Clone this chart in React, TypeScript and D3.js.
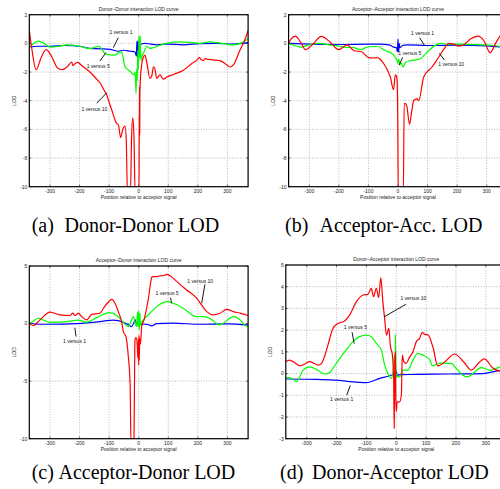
import React from 'react';
import * as d3 from 'd3';

type Pt = [number, number];

// shared x axis
const xDomain: [number, number] = [-370, 370];
const xTicks = [-300, -200, -100, 0, 100, 200, 300];
const xLabel = 'Position relative to acceptor signal';
const yLabel = 'LOD';

const seriesNames = ['1 versus 1', '1 versus 5', '1 versus 10'];
const seriesColors = ['#0000ff', '#00ff00', '#ff0000'];

const titles = [
  'Donor–Donor interaction LOD curve',
  'Acceptor–Acceptor interaction LOD curve',
  'Acceptor–Donor interaction LOD curve',
  'Donor–Acceptor interaction LOD curve',
];
const captionTags = ['(a)', '(b)', '(c)', '(d)'];
const captions = ['Donor-Donor LOD', 'Acceptor-Acc. LOD', 'Acceptor-Donor LOD', 'Donor-Acceptor LOD'];

const yTicksTop = [-10, -8, -6, -4, -2, 0, 2];
const yTicksC = [-10, -5, 0, 5];
const yTicksD = [-3, -2, -1, 0, 1, 2, 3, 4, 5];

// (a) Donor-Donor
const ddBlue: Pt[] = [[-370,-0.25],[-340,-0.2],[-300,-0.2],[-250,-0.15],[-200,-0.2],[-165,-0.35],[-131,-0.38],[-97,-0.42],[-69,-0.55],[-50,-0.48],[-29,-0.55],[-12,-0.6],[-8,-0.9],[-6,0.15],[-4,-1.0],[-2,0.2],[0,-0.8],[2,-0.2],[4,-0.1],[21,0],[40,-0.05],[61,-0.1],[100,-0.05],[150,-0.1],[207,-0.02],[260,0],[320,-0.05],[370,0.05]];
const ddGreen: Pt[] = [[-370,-0.26],[-355,0],[-339,0.16],[-320,0],[-300,-0.26],[-270,-0.2],[-244,-0.1],[-198,-0.2],[-165,-0.37],[-137,-0.2],[-131,-0.24],[-114,-0.7],[-97,-0.8],[-80,-0.82],[-63,-0.6],[-57,-0.65],[-46,-1.63],[-29,-1.95],[-15,-2.2],[-12,-2.0],[-9,-3.5],[-7,-1.8],[-5,-2.6],[-3,-0.5],[-1,-1.8],[1,0.5],[3,-1.0],[5,0.55],[7,-1.2],[10,-0.95],[18,-0.6],[27,-0.2],[38,-0.35],[50,-0.3],[70,-0.15],[95,0],[140,0.1],[180,0.05],[207,0],[240,0.1],[264,0.05],[320,-0.1],[350,0.05],[370,0.33]];
const ddRed: Pt[] = [[-370,0.9],[-362,-0.3],[-347,-1.84],[-330,-1.0],[-313,-0.44],[-295,-0.9],[-275,-1.7],[-260,-1.84],[-240,-1.6],[-227,-1.3],[-222,-1.55],[-217,-1.45],[-207,-1.33],[-190,-1.6],[-165,-2.0],[-142,-2.5],[-131,-2.75],[-119,-3.2],[-108,-3.6],[-97,-4.3],[-91,-4.65],[-80,-5.35],[-74,-5.6],[-69,-5.65],[-61,-6.58],[-54,-6.0],[-46,-5.77],[-42,-6.8],[-38,-10.5],[-28,-10.5],[-24,-6.5],[-20,-5.2],[-16,-6.5],[-12,-10.5],[1,-10.5],[2,-5],[2.5,-6.5],[3,-3],[3.5,-6.3],[4,-3.5],[6,-2.4],[10,-1.5],[15,-1.0],[21,-0.82],[27,-1.3],[38,-2.44],[44,-2.3],[50,-1.63],[55,-1.8],[61,-2.44],[72,-2.2],[83,-2.5],[95,-2.35],[120,-2.15],[151,-1.88],[180,-1.4],[196,-1.19],[205,-1.0],[212,-1.15],[219,-1.2],[226,-1.05],[230,-1.1],[250,-1.15],[275,-1.2],[295,-1.45],[309,-1.65],[320,-1.5],[342,-0.5],[360,0.3],[370,0.9]];

// (b) Acceptor-Acceptor
const aaBlue: Pt[] = [[-370,0],[-300,-0.05],[-200,-0.08],[-100,-0.05],[-60,-0.05],[-30,-0.1],[-15,-0.26],[-5,-0.3],[-2,-0.6],[0,0.3],[2,-0.6],[4,0],[6,-0.3],[15,-0.15],[30,-0.1],[100,-0.15],[200,-0.12],[300,-0.18],[370,-0.3]];
const aaGreen: Pt[] = [[-370,0],[-350,-0.15],[-330,-0.26],[-300,-0.1],[-270,0],[-234,-0.1],[-200,-0.2],[-184,-0.26],[-150,-0.3],[-127,-0.44],[-105,-0.26],[-71,-0.2],[-43,-0.5],[-20,-0.72],[-8,-1.0],[-3,-1.2],[0,-1.4],[3,-1.1],[6,-1.5],[10,-1.35],[17,-1.65],[25,-1.35],[42,-1.2],[60,-1.15],[76,-1.07],[90,-0.8],[104,-0.5],[126,-0.14],[143,0],[170,-0.05],[220,-0.05],[280,-0.1],[320,-0.15],[370,-0.26]];
const aaRed: Pt[] = [[-370,0],[-362,0.3],[-347,0.5],[-330,0.1],[-313,-0.44],[-290,-0.1],[-259,0.49],[-230,0.1],[-201,-0.44],[-172,-0.1],[-150,-0.5],[-122,-0.6],[-99,-1.0],[-85,-1.02],[-71,-1.0],[-48,-1.42],[-35,-1.9],[-26,-2.35],[-15,-3.23],[-9,-2.2],[-5,-2.3],[-3,-2.6],[-1,-5],[1,-10.5],[18,-10.5],[21,-4.2],[26,-4.2],[30,-4.4],[39,-5.65],[46,-4.8],[53,-4.0],[60,-3.9],[64,-3.85],[70,-4.0],[87,-2.35],[115,-1.65],[138,-0.95],[160,-0.26],[171,0],[188,-0.05],[205,-0.2],[222,-0.1],[245,0.3],[270,0.5],[290,0.2],[312,-0.65],[330,0.0],[348,0.6],[370,1.0]];

// (c) Acceptor-Donor
const adBlue: Pt[] = [[-370,0.12],[-346,-0.06],[-300,-0.06],[-210,0],[-131,0.17],[-86,0.3],[-52,0.12],[-35,-0.1],[-24,-0.26],[-16,0.1],[-12,0.32],[-8,0],[-5,-0.1],[5,-0.06],[27,-0.06],[44,-0.2],[61,0],[117,0.03],[207,-0.06],[300,-0.02],[370,-0.12]];
const adGreen: Pt[] = [[-370,0],[-355,0.25],[-339,0.46],[-322,0.3],[-300,0.1],[-244,0.17],[-204,0.3],[-176,0.12],[-142,0.52],[-97,0.95],[-74,0.7],[-52,0.12],[-35,-0.26],[-24,0.32],[-18,0.6],[-12,0.1],[-7,-0.26],[-4,1.0],[-2,-0.3],[0,1.1],[2,-0.55],[4,0.9],[6,-0.2],[10,0.1],[16,0.32],[38,0.9],[61,1.47],[95,1.9],[117,1.76],[151,1.33],[196,0.6],[219,0.6],[253,0.23],[269,-0.12],[286,0.03],[320,0.6],[343,0.32],[360,-0.17],[370,-0.26]];
const adRed: Pt[] = [[-370,0],[-356,-0.17],[-334,0.32],[-300,1.0],[-266,0.75],[-232,0.7],[-223,0.9],[-215,0.7],[-204,0.9],[-193,0.6],[-176,0.32],[-159,0.8],[-131,0.9],[-119,1.33],[-103,1.85],[-91,2.1],[-80,1.76],[-69,1.04],[-58,0.17],[-52,-0.7],[-43,-1.13],[-35,-2.9],[-29,-5.3],[-26,-10.5],[-16,-10.5],[-13,-1.5],[-9,-1.2],[-5,-1.8],[-3,-3.0],[-1,-1.3],[0,-3.6],[1,-1.0],[2,-3.2],[3,-1.27],[6,-1.8],[10,-0.26],[18,0.32],[33,2.2],[44,4.0],[47,4.07],[61,4.07],[72,4.15],[83,4.16],[95,4.28],[106,4.16],[129,3.64],[162,2.92],[196,2.2],[213,1.6],[230,1.04],[253,0.75],[275,0.9],[298,1.24],[320,1.04],[343,0.9],[370,0.7]];

// (d) Donor-Acceptor
const daBlue: Pt[] = [[-370,-0.25],[-268,-0.27],[-200,-0.3],[-156,-0.37],[-100,-0.42],[-56,-0.22],[-22,-0.1],[-5,0],[0,0.12],[3,-0.1],[11,-0.05],[67,-0.04],[178,-0.02],[290,0],[340,0.12],[370,0.15]];
const daGreen: Pt[] = [[-370,-0.19],[-357,-0.19],[-334,-0.37],[-312,0.16],[-290,0.31],[-268,0.2],[-240,-0.02],[-223,0.05],[-201,0.47],[-173,1.0],[-145,1.47],[-123,1.7],[-100,1.77],[-84,1.7],[-67,1.39],[-50,1.08],[-39,0.39],[-28,0],[-17,-0.22],[-11,0.09],[-6,0.85],[-4,-0.1],[-3,1.8],[-1,-0.2],[0,-0.05],[5,-0.15],[11,-0.15],[16,-0.05],[22,0.16],[39,0.16],[56,0.62],[72,0.93],[89,0.85],[111,0.65],[122,0.35],[145,0.48],[184,0.47],[200,0.25],[220,-0.05],[240,-0.15],[260,0.05],[284,0.27],[317,0.15],[345,0.3],[370,0.35]];
const daRed: Pt[] = [[-370,0.55],[-357,0.62],[-340,0.5],[-323,0.36],[-305,0.45],[-290,0.55],[-262,0.39],[-251,0.45],[-240,0.8],[-229,1.31],[-212,2.08],[-195,2.31],[-173,2.42],[-156,2.7],[-134,3.3],[-111,3.62],[-95,3.65],[-84,3.92],[-76,3.54],[-67,3.93],[-59,3.5],[-52,4.42],[-45,3.3],[-39,2.54],[-33,1.77],[-25,2.08],[-20,1.3],[-13,0.85],[-9,-0.22],[-7,-2.52],[-5,0.5],[-3,1.0],[-1.5,-1.2],[0,-1.75],[3,-1.3],[11,-1.3],[17,-1.0],[20,0.85],[25,0.55],[33,0.47],[45,0.77],[56,1.0],[67,1.47],[78,1.62],[87,1.9],[95,1.8],[106,1.78],[123,1.2],[139,0.35],[162,0.53],[195,0.9],[228,0.5],[251,0.16],[279,0.53],[295,0.68],[322,0.27],[345,0.12],[370,0.1]];

// annotation: [series index, text x, text y, line x1, y1, x2, y2] in data units
type Note = [number, number, number, number, number, number, number];
const ddNotes: Note[] = [[0,-60,0.77,-86,-0.3,-69,0.4],[1,-137,-1.6,-131,-1.23,-111,-0.65],[2,-150,-4.56,-142,-4.18,-108,-3.44]];
const aaNotes: Note[] = [[0,83,0.72,73,0.4,90,-0.16],[1,40,-0.69,16,-0.97,4,-1.51],[2,180,-1.46,157,-1.16,140,-0.69]];
const adNotes: Note[] = [[0,-217,-1.51,-216,-0.35,-212,-1.13],[1,96,2.68,108,2.25,111,1.76],[2,208,3.72,224,3.41,213,1.76]];
const daNotes: Note[] = [[0,-183,-1.19,-166,-1.0,-154,-0.54],[1,-137,2.13,-148,1.9,-141,1.38],[2,57,3.47,32,3.19,-41,2.61]];

const SANS = '"Liberation Sans", Arial, Helvetica, sans-serif';
const SERIF = '"Liberation Serif", "Times New Roman", serif';

interface PanelProps {
  id: string;
  left: number;
  top: number;
  width: number;
  height: number;
  yDomain: [number, number];
  yTicks: number[];
  title: string;
  series: Pt[][];
  notes: Note[];
}

const Panel: React.FC<PanelProps> = ({ id, left, top, width, height, yDomain, yTicks, title, series, notes }) => {
  const x = d3.scaleLinear().domain(xDomain).range([left, left + width]);
  const y = d3.scaleLinear().domain(yDomain).range([top + height, top]);
  const line = d3.line<Pt>()
    .x(d => x(d[0]))
    .y(d => y(d[1]))
    .curve(d3.curveMonotoneX);
  const bottom = top + height;
  const right = left + width;
  const tl = 2;

  return (
    <g>
      <defs>
        <clipPath id={id}>
          <rect x={left} y={top} width={width} height={height} />
        </clipPath>
      </defs>
      {/* grid */}
      {xTicks.map(t => (
        <line key={'gx' + t} x1={x(t)} x2={x(t)} y1={top} y2={bottom}
          stroke="#8a8a8a" strokeWidth={0.6} strokeDasharray="1,1.6" />
      ))}
      {yTicks.map(t => (
        <line key={'gy' + t} x1={left} x2={right} y1={y(t)} y2={y(t)}
          stroke="#8a8a8a" strokeWidth={0.6} strokeDasharray="1,1.6" />
      ))}
      {/* curves */}
      <g clipPath={`url(#${id})`}>
        {series.map((s, i) => (
          <path key={i} d={line(s) || ''} fill="none" stroke={seriesColors[i]}
            strokeWidth={1.2} strokeLinejoin="round" />
        ))}
      </g>
      {/* frame and ticks */}
      <rect x={left} y={top} width={width} height={height} fill="none" stroke="#000" strokeWidth={1.2} />
      {xTicks.map(t => (
        <g key={'tx' + t}>
          <line x1={x(t)} x2={x(t)} y1={bottom} y2={bottom - tl} stroke="#000" strokeWidth={0.6} />
          <line x1={x(t)} x2={x(t)} y1={top} y2={top + tl} stroke="#000" strokeWidth={0.6} />
          <text x={x(t)} y={bottom + 6.6} fontSize={5} fontFamily={SANS} textAnchor="middle" fill="#222">{String(t)}</text>
        </g>
      ))}
      {yTicks.map(t => (
        <g key={'ty' + t}>
          <line x1={left} x2={left + tl} y1={y(t)} y2={y(t)} stroke="#000" strokeWidth={0.6} />
          <line x1={right} x2={right - tl} y1={y(t)} y2={y(t)} stroke="#000" strokeWidth={0.6} />
          <text x={left - 2} y={y(t) + 1.8} fontSize={5} fontFamily={SANS} textAnchor="end" fill="#222">{String(t)}</text>
        </g>
      ))}
      <text x={(left + right) / 2} y={top - 3.6} fontSize={5} fontFamily={SANS} textAnchor="middle" fill="#222">{title}</text>
      <text x={(left + right) / 2} y={bottom + 11.8} fontSize={5} fontFamily={SANS} textAnchor="middle" fill="#222">{xLabel}</text>
      <text transform={`translate(${left - 13.5},${(top + bottom) / 2}) rotate(-90)`} fontSize={5} fontFamily={SANS}
        textAnchor="middle" fill="#222">{yLabel}</text>
      {/* annotations */}
      {notes.map((n, i) => (
        <g key={'n' + i}>
          <line x1={x(n[3])} y1={y(n[4])} x2={x(n[5])} y2={y(n[6])} stroke="#000" strokeWidth={0.9} />
          <text x={x(n[1])} y={y(n[2]) + 1.8} fontSize={5} fontFamily={SANS} textAnchor="middle" fill="#111">
            {seriesNames[n[0]]}
          </text>
        </g>
      ))}
    </g>
  );
};

const App: React.FC = () => {
  const rowCap = [232, 479];
  const capPos = [[31.7, 64.5], [285, 319.5], [31.7, 58.5], [280, 312]];
  return (
    <svg width={500} height={489} viewBox="0 0 500 489"
      style={{ position: 'absolute', left: 0, top: 0, display: 'block', background: '#fff' }}>
      <Panel id="clipA" left={29.3} top={14.7} width={218.8} height={172} yDomain={[-10, 2]} yTicks={yTicksTop}
        title={titles[0]} series={[ddBlue, ddGreen, ddRed]} notes={ddNotes} />
      <Panel id="clipB" left={288.6} top={14.7} width={218.8} height={172} yDomain={[-10, 2]} yTicks={yTicksTop}
        title={titles[1]} series={[aaBlue, aaGreen, aaRed]} notes={aaNotes} />
      <Panel id="clipC" left={29.3} top={266} width={218.8} height={172.7} yDomain={[-10, 5]} yTicks={yTicksC}
        title={titles[2]} series={[adBlue, adGreen, adRed]} notes={adNotes} />
      <Panel id="clipD" left={285.8} top={265} width={221} height={173.7} yDomain={[-3, 5]} yTicks={yTicksD}
        title={titles[3]} series={[daBlue, daGreen, daRed]} notes={daNotes} />
      {captions.map((c, i) => (
        <g key={c}>
          <text x={capPos[i][0]} y={rowCap[Math.floor(i / 2)]} fontSize={20} fontFamily={SERIF} fill="#000">{captionTags[i]}</text>
          <text x={capPos[i][1]} y={rowCap[Math.floor(i / 2)]} fontSize={20} fontFamily={SERIF} fill="#000">{c}</text>
        </g>
      ))}
    </svg>
  );
};

export default App;
